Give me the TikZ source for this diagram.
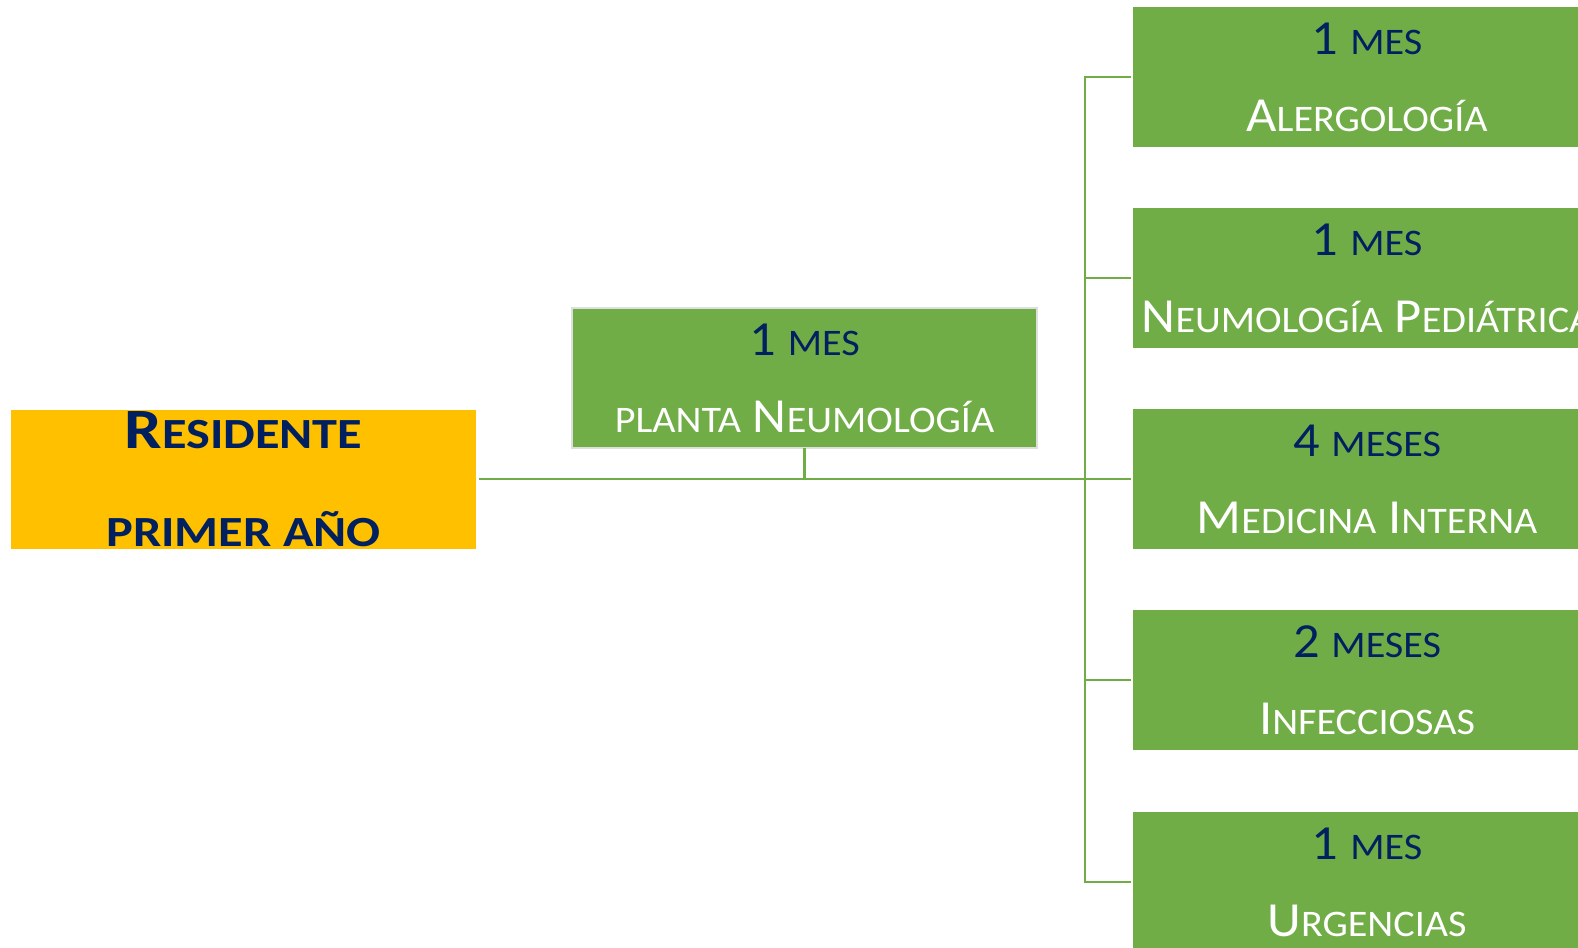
\documentclass[tikz,border=0pt]{standalone}
\usepackage{fontspec}
\setmainfont{Carlito}[FakeStretch=1.07]
\newfontfamily\fuerte{Carlito}[FakeStretch=1.17]
\usepackage{tikz}
\usetikzlibrary{positioning}
\definecolor{verde}{RGB}{112,173,71}
\definecolor{amarillo}{RGB}{255,192,0}
\definecolor{azulMarino}{RGB}{0,32,96}
\definecolor{grisClaro}{RGB}{222,222,222}
% versalitas hechas a mano
\newcommand{\chica}[2][37.5]{{\fontsize{#1}{77}\selectfont #2}}
\tikzstyle{linea}  =[draw=verde, line width=2.2pt]
\tikzstyle{cajaverde}=[rectangle, fill=verde, text=white,
                    minimum width=468pt, minimum height=140pt,
                    inner sep=0pt, outer sep=0pt, align=center,
                    font=\fontsize{49}{77}\selectfont]
\tikzstyle{cajacentral}=[cajaverde, draw=grisClaro, line width=2.5pt,
                    minimum width=465pt, minimum height=140pt]
\tikzstyle{cajaamarilla}=[rectangle, fill=amarillo, text=azulMarino,
                    minimum width=465pt, minimum height=139pt,
                    inner sep=0pt, outer sep=0pt, align=center,
                    font=\fuerte\bfseries\fontsize{57}{98}\selectfont]

\begin{document}
\begin{tikzpicture}[x=1pt,y=1pt]

        \useasboundingbox (0,0) rectangle (1578,-947);

        \node[cajaamarilla] (residente) at (243.5,-479)
            {R\chica[43]{ESIDENTE}\\\chica[43]{PRIMER AÑO}};

        \node[cajacentral] (planta) at (804.5,-378)
            {{\color{azulMarino}1 \chica{MES}}\\\chica{PLANTA} N\chica{EUMOLOGÍA}};

        \foreach \i/\y/\dur/\area in {1/77/{1 \chica{MES}}/{A\chica{LERGOLOGÍA}},
                2/278/{1 \chica{MES}}/{N\chica{EUMOLOGÍA} P\chica{EDIÁTRICA}},
                3/479/{4 \chica{MESES}}/{M\chica{EDICINA} I\chica{NTERNA}},
                4/680/{2 \chica{MESES}}/{I\chica{NFECCIOSAS}},
                5/882/{1 \chica{MES}}/{U\chica{RGENCIAS}}}
            \node[cajaverde] (area\i) at (1367,-\y) {{\color{azulMarino}\dur}\\\area};

        \path (area1.west) ++(-48,0) coordinate (barra);

        \draw[linea, shorten <=3pt] (residente.east) -- (barra |- residente.east);
        \draw[linea] (planta.south) -- (planta.south |- residente.east);

        \draw[linea, shorten <=2pt, shorten >=2pt] (area1.west) -- (barra) |- (area5.west);
        \foreach \i in {2,3,4}
            \draw[linea, shorten <=2pt] (area\i.west) -- (area\i.west -| barra);

\end{tikzpicture}
\end{document}
